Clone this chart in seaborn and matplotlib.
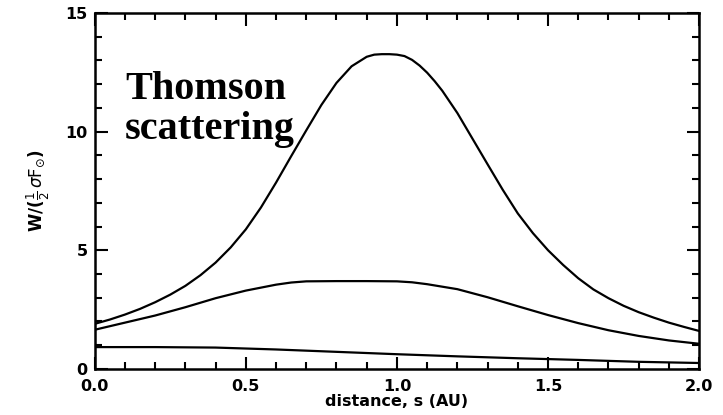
import numpy as np
import pandas as pd
import matplotlib
matplotlib.use("Agg")
import matplotlib.pyplot as plt
from matplotlib.ticker import MultipleLocator
import seaborn as sns

# values
s_top = [0.00, 0.05, 0.10, 0.15, 0.20, 0.25, 0.30, 0.35, 0.40, 0.45, 0.50,
         0.55, 0.60, 0.65, 0.70, 0.75, 0.80, 0.85, 0.90, 0.925, 0.95, 0.975,
         1.00, 1.025, 1.05, 1.075, 1.10, 1.125, 1.15, 1.20, 1.25, 1.30, 1.35,
         1.40, 1.45, 1.50, 1.55, 1.60, 1.65, 1.70, 1.75, 1.80, 1.85, 1.90,
         1.95, 2.00]
w_top = [1.90, 2.08, 2.29, 2.53, 2.81, 3.13, 3.50, 3.95, 4.48, 5.12, 5.88,
         6.80, 7.85, 8.96, 10.05, 11.12, 12.05, 12.75, 13.15, 13.24, 13.26, 13.26,
         13.24, 13.18, 13.02, 12.78, 12.48, 12.12, 11.72, 10.78, 9.70, 8.62, 7.55,
         6.55, 5.72, 5.00, 4.38, 3.82, 3.35, 2.98, 2.66, 2.39, 2.16, 1.95,
         1.77, 1.60]

s_mid = [0.0, 0.1, 0.2, 0.3, 0.4, 0.5, 0.6, 0.65, 0.7, 0.8, 0.9, 1.0,
         1.05, 1.1, 1.2, 1.3, 1.4, 1.5, 1.6, 1.7, 1.8, 1.9, 2.0]
w_mid = [1.65, 1.95, 2.25, 2.60, 2.98, 3.30, 3.55, 3.64, 3.69, 3.70, 3.70, 3.69,
         3.65, 3.57, 3.36, 3.02, 2.64, 2.27, 1.93, 1.63, 1.39, 1.20, 1.06]

s_low = [0.0, 0.2, 0.4, 0.6, 0.8, 1.0, 1.2, 1.4, 1.6, 1.8, 2.0]
w_low = [0.92, 0.92, 0.90, 0.82, 0.72, 0.62, 0.53, 0.45, 0.38, 0.30, 0.25]

x_ticks = [0.0, 0.5, 1.0, 1.5, 2.0]
y_ticks = [0, 5, 10, 15]

df = pd.concat([
    pd.DataFrame({"s": s_top, "W": w_top, "curve": "top"}),
    pd.DataFrame({"s": s_mid, "W": w_mid, "curve": "mid"}),
    pd.DataFrame({"s": s_low, "W": w_low, "curve": "low"}),
])

sns.set_style("ticks")
plt.rcParams["font.family"] = ["DejaVu Sans"]
plt.rcParams["text.color"] = "black"
plt.rcParams["axes.labelcolor"] = "black"
plt.rcParams["xtick.color"] = "black"
plt.rcParams["ytick.color"] = "black"

fig = plt.figure(figsize=(7.23, 4.15), dpi=100)
ax = fig.add_axes([0.131, 0.111, 0.836, 0.858])

sns.lineplot(data=df, x="s", y="W", units="curve", estimator=None,
             color="black", linewidth=1.6, sort=False, ax=ax)

ax.set_xlim(0, 2.0)
ax.set_ylim(0, 15)
ax.set_xticks(x_ticks)
ax.set_xticklabels([f"{v:.1f}" for v in x_ticks])
ax.set_yticks(y_ticks)
ax.set_yticklabels([str(v) for v in y_ticks])
ax.xaxis.set_minor_locator(MultipleLocator(0.1))
ax.yaxis.set_minor_locator(MultipleLocator(1))
ax.tick_params(which="both", direction="in", top=True, right=True,
               width=1.5, color="black")
ax.tick_params(which="major", length=9, labelsize=11.5)
ax.tick_params(axis="x", which="major", pad=7)
ax.tick_params(axis="y", which="major", pad=5)
ax.tick_params(which="minor", length=5)
for lab in ax.get_xticklabels() + ax.get_yticklabels():
    lab.set_fontweight("bold")
for sp in ax.spines.values():
    sp.set_linewidth(1.8)
    sp.set_color("black")

ax.set_xlabel("distance, s (AU)", fontsize=11.5, fontweight="bold", labelpad=0)
ax.set_ylabel(r"W/($\frac{1}{2}\,\sigma\mathrm{F}_{\odot}$)", fontsize=12,
              fontweight="bold", labelpad=10)

ax.text(0.10, 12.55, "Thomson\nscattering", family="Liberation Serif",
        fontweight="bold", fontsize=29, va="top", ha="left",
        linespacing=1.1, color="black")

fig.savefig("out.png", dpi=100)
